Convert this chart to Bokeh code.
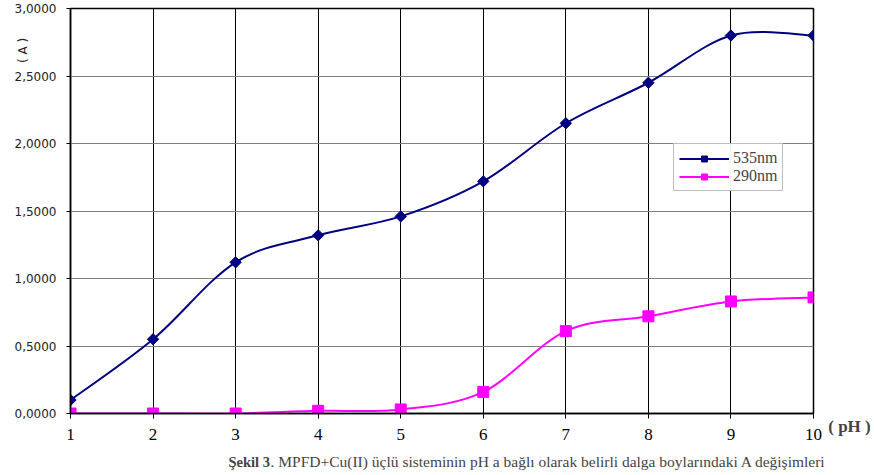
from bokeh.plotting import figure
from bokeh.models import (FixedTicker, CustomJSTickFormatter, Label, Legend,
                          LegendItem, ColumnDataSource)
from bokeh.embed import file_html
from bokeh.resources import INLINE
import numpy as np

ph = [1, 2, 3, 4, 5, 6, 7, 8, 9, 10]
a_535 = [0.10, 0.55, 1.12, 1.32, 1.46, 1.72, 2.15, 2.45, 2.80, 2.80]
a_290 = [0.00, 0.00, 0.00, 0.02, 0.03, 0.16, 0.61, 0.72, 0.83, 0.86]
y_ticks = [0.0, 0.5, 1.0, 1.5, 2.0, 2.5, 3.0]

NAVY = "#000080"
MAGENTA = "#FF00FF"


def smooth_segments(xs, ys):
    """Cardinal-spline control points for a smoothed line through the points."""
    x = np.asarray(xs, float)
    y = np.asarray(ys, float)
    n = len(x)
    xp = np.concatenate([[x[0]], x, [x[-1]]])
    yp = np.concatenate([[y[0]], y, [y[-1]]])
    i = np.arange(n - 1)
    cx0 = x[i] + (xp[i + 2] - xp[i]) / 6
    cy0 = y[i] + (yp[i + 2] - yp[i]) / 6
    cx1 = x[i + 1] - (xp[i + 3] - xp[i + 1]) / 6
    cy1 = y[i + 1] - (yp[i + 3] - yp[i + 1]) / 6
    return ColumnDataSource(dict(x0=x[:-1], y0=y[:-1], x1=x[1:], y1=y[1:],
                                 cx0=cx0, cy0=cy0, cx1=cx1, cy1=cy1))


p = figure(width=874, height=475, x_range=(1, 10), y_range=(0, 3),
           output_backend="svg", toolbar_location=None,
           min_border_left=70, min_border_right=61,
           min_border_top=8, min_border_bottom=62)
p.outline_line_color = "black"
p.outline_line_width = 1.5
p.background_fill_color = "white"
p.border_fill_color = "white"

# axes
p.xaxis.ticker = FixedTicker(ticks=ph)
p.yaxis.ticker = FixedTicker(ticks=y_ticks)
p.yaxis.formatter = CustomJSTickFormatter(
    code="return tick.toFixed(4).replace('.', ',');")
for ax in (p.xaxis[0], p.yaxis[0]):
    ax.axis_line_color = "black"
    ax.axis_line_width = 1.5
    ax.major_tick_line_color = "black"
    ax.major_tick_in = 0
    ax.minor_tick_line_color = None
p.xaxis.major_tick_out = 5
p.yaxis.major_tick_out = 4
p.xaxis.major_label_text_font = "Liberation Serif"
p.xaxis.major_label_text_font_size = "17px"
p.xaxis.major_label_text_color = "black"
p.xaxis.major_label_standoff = 10
p.yaxis.major_label_text_font = "DejaVu Sans"
p.yaxis.major_label_text_font_size = "12px"
p.yaxis.major_label_text_color = "#222222"
p.yaxis.major_label_standoff = 10

# grid
p.xgrid.grid_line_color = "black"
p.xgrid.grid_line_width = 1
p.ygrid.grid_line_color = "#808080"
p.ygrid.grid_line_width = 1

# series: smoothed lines through the measured points
b1 = p.bezier(x0="x0", y0="y0", x1="x1", y1="y1", cx0="cx0", cy0="cy0",
              cx1="cx1", cy1="cy1", source=smooth_segments(ph, a_535),
              line_color=NAVY, line_width=2)
s1 = p.scatter(ph, a_535, marker="square", angle=np.pi / 4, size=8,
               fill_color=NAVY, line_color=NAVY)
b2 = p.bezier(x0="x0", y0="y0", x1="x1", y1="y1", cx0="cx0", cy0="cy0",
              cx1="cx1", cy1="cy1", source=smooth_segments(ph, a_290),
              line_color=MAGENTA, line_width=2)
s2 = p.scatter(ph, a_290, marker="square", size=11, fill_color=MAGENTA,
               line_color=MAGENTA)

legend = Legend(items=[LegendItem(label="535nm", renderers=[b1, s1], index=0),
                       LegendItem(label="290nm", renderers=[b2, s2], index=0)],
                location=(603, 222))
legend.border_line_color = "#808080"
legend.border_line_width = 1
legend.label_text_font = "Liberation Serif"
legend.label_text_font_size = "16px"
legend.glyph_width = 50
legend.glyph_height = 15
legend.label_height = 15
legend.label_standoff = 4
legend.spacing = 0
legend.padding = 5
legend.margin = 0
legend.background_fill_color = "white"
p.add_layout(legend, "center")

# axis titles and caption (placed in canvas pixels, kept in side panels so
# they are not clipped to the plotting frame)
p.add_layout(Label(x=22, y=50, x_units="canvas", y_units="canvas",
                   text="( A )", angle=np.pi / 2, text_font="DejaVu Sans",
                   text_font_size="12px", text_align="center",
                   text_baseline="middle", text_color="#222222"), "right")
p.add_layout(Label(x=849, y=426, x_units="canvas", y_units="canvas",
                   text="( pH )", text_font="Liberation Serif",
                   text_font_style="bold", text_font_size="17px",
                   text_align="center", text_baseline="middle"), "right")
p.add_layout(Label(x=228, y=461, x_units="canvas", y_units="canvas",
                   text="Şekil 3", text_font="Liberation Serif",
                   text_font_style="bold", text_font_size="14.5px",
                   text_align="left", text_baseline="middle"), "below")
p.add_layout(Label(x=270, y=461, x_units="canvas", y_units="canvas",
                   text=". MPFD+Cu(II) üçlü sisteminin pH a bağlı olarak belirli dalga boylarındaki A değişimleri",
                   text_font="Liberation Serif", text_font_size="15.5px",
                   text_align="left", text_baseline="middle"), "below")

open("out.html", "w").write(file_html(p, INLINE))
